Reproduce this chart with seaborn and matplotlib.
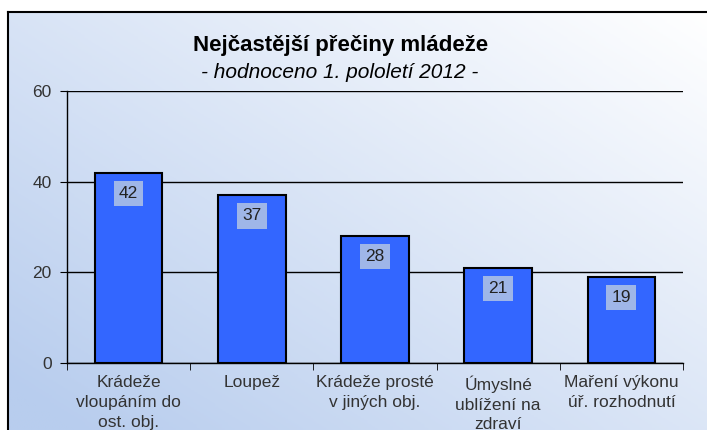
import numpy as np
import pandas as pd
import seaborn as sns
import matplotlib.pyplot as plt
from matplotlib.lines import Line2D
from matplotlib.colors import LinearSegmentedColormap

# data
categories = ["Krádeže\nvloupáním do\nost. obj.", "Loupež", "Krádeže prosté\nv jiných obj.",
              "Úmyslné\nublížení na\nzdraví", "Maření výkonu\núř. rozhodnutí"]
counts = [42, 37, 28, 21, 19]
yticks = [0, 20, 40, 60]

df = pd.DataFrame({"kategorie": categories, "pocet": counts})

plt.rcParams['font.family'] = ['Liberation Sans', 'DejaVu Sans']
text_col = '#333333'

fig = plt.figure(figsize=(7.07, 4.30), dpi=100)
fig.patch.set_facecolor('white')

# gradient background behind the chart frame
bg = fig.add_axes([7.5 / 707, 0, 1 - 7.5 / 707, 1 - 11.5 / 430], zorder=0)
xx, yy = np.meshgrid(np.linspace(0, 1, 200), np.linspace(0, 1, 200))
blue = np.clip(0.55 * (1 - xx) + 0.5 * (1 - yy), 0, 1)
cmap = LinearSegmentedColormap.from_list('bg', ['#ffffff', '#b8cdee'])
bg.imshow(blue, cmap=cmap, aspect='auto', origin='lower', extent=[0, 1, 0, 1], vmin=0, vmax=1)
bg.axis('off')

# frame lines (left and top)
fig.add_artist(Line2D([7.5 / 707, 7.5 / 707], [0, 1 - 11.5 / 430], transform=fig.transFigure,
                      color='black', lw=1.5, zorder=1))
fig.add_artist(Line2D([7.5 / 707, 1], [1 - 11.5 / 430, 1 - 11.5 / 430], transform=fig.transFigure,
                      color='black', lw=1.5, zorder=1))

ax = fig.add_axes([67 / 707, 1 - 362.7 / 430, 616 / 707, (362.7 - 91) / 430], zorder=2)
ax.patch.set_alpha(0)

sns.barplot(data=df, x='kategorie', y='pocet', color='#3366ff', width=0.55,
            edgecolor='black', linewidth=1.5, saturation=1, ax=ax, zorder=3)

ax.set_ylim(0, 60)
ax.set_xlim(-0.5, len(categories) - 0.5)
ax.set_yticks(yticks)
ax.yaxis.grid(True, color='black', lw=1)
ax.set_axisbelow(True)
for s in ['top', 'right']:
    ax.spines[s].set_visible(False)
for s in ['left', 'bottom']:
    ax.spines[s].set_color('black')
    ax.spines[s].set_linewidth(1)

ax.set_xlabel('')
ax.set_ylabel('')
ax.tick_params(axis='y', direction='out', length=5, color='black', labelsize=12.5,
               labelcolor=text_col, pad=6)
ax.tick_params(axis='x', which='major', length=0, labelsize=12.5, labelcolor=text_col, pad=9)
ax.set_xticks(np.arange(-0.5, len(categories)), minor=True)
ax.tick_params(axis='x', which='minor', direction='out', length=5, color='black')
for lab in ax.get_xticklabels():
    lab.set_linespacing(1.4)
    lab.set_multialignment('center')

# value labels in boxes
for i, v in enumerate(counts):
    ax.annotate(str(v), (i, v), xytext=(0, -15), textcoords='offset points',
                ha='center', va='center', fontsize=12.5, color='#222222', zorder=5,
                bbox=dict(boxstyle='square,pad=0.3', fc='#9fb6e8', ec='none'))

fig.text(0.481, 1 - 45 / 430, 'Nejčastější přečiny mládeže', ha='center', va='center',
         fontsize=16, fontweight='bold', color='black')
fig.text(0.481, 1 - 72 / 430, '- hodnoceno 1. pololetí 2012 -', ha='center', va='center',
         fontsize=15, fontstyle='italic', color='black')

fig.savefig('out.png', dpi=100)
